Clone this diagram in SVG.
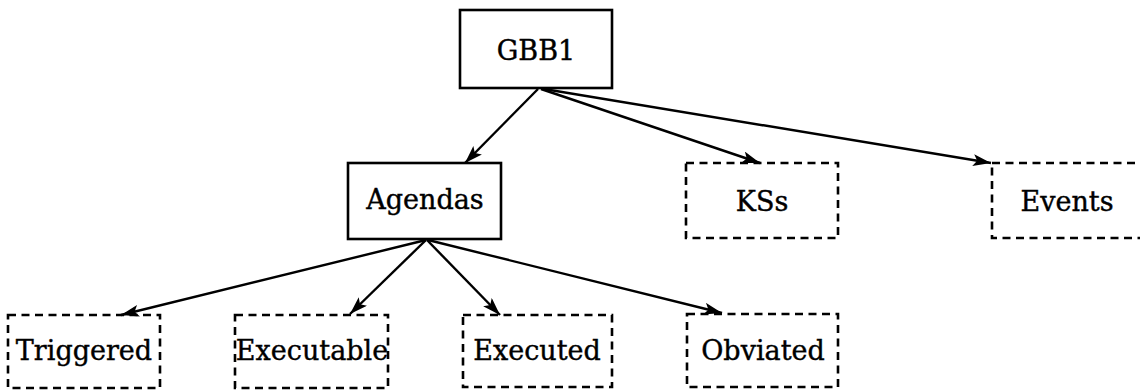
<svg xmlns="http://www.w3.org/2000/svg" width="1140" height="391" viewBox="0 0 1140 391">
<style>
.solid{fill:#fff;stroke:#000;stroke-width:2.6}
.dash{fill:#fff;stroke:#000;stroke-width:2.6;stroke-dasharray:8 5.5}
.lbl{font-family:"DejaVu Serif","Liberation Serif",serif;font-size:27px;fill:#000;stroke:#000;stroke-width:0.4;text-anchor:middle}
.edge{stroke:#000;stroke-width:2.4;fill:none;marker-end:url(#ah)}
</style>
<defs>
<marker id="ah" markerUnits="userSpaceOnUse" markerWidth="20" markerHeight="14" refX="18" refY="6" orient="auto">
<path d="M0,0 L18,6 L0,12 L4,6 z" fill="#000"/>
</marker>
</defs>
<rect width="1140" height="391" fill="#fff"/>
<g id="n-gbb1"><rect class="solid" x="460" y="10" width="152" height="78"/><text class="lbl" x="536" y="60">GBB1</text></g>
<g id="n-agendas"><rect class="solid" x="348" y="163" width="153" height="76"/><text class="lbl" x="425" y="209">Agendas</text></g>
<g id="n-kss"><rect class="dash" x="686" y="163" width="152" height="75"/><text class="lbl" x="762" y="211">KSs</text></g>
<g id="n-events"><rect class="dash" x="992" y="163" width="154" height="75"/><text class="lbl" x="1067" y="211">Events</text></g>
<g id="n-triggered"><rect class="dash" x="8" y="315" width="152" height="73"/><text class="lbl" x="84" y="360">Triggered</text></g>
<g id="n-executable"><rect class="dash" x="235" y="315" width="153" height="73"/><text class="lbl" x="312" y="360">Executable</text></g>
<g id="n-executed"><rect class="dash" x="463" y="315" width="149" height="72"/><text class="lbl" x="537" y="360">Executed</text></g>
<g id="n-obviated"><rect class="dash" x="687" y="314" width="151" height="73"/><text class="lbl" x="763" y="360">Obviated</text></g>
<g id="connectors">
<line class="edge" x1="538" y1="89" x2="465" y2="163"/>
<line class="edge" x1="541" y1="89" x2="760" y2="163"/>
<line class="edge" x1="544" y1="89" x2="991" y2="163"/>
<line class="edge" x1="426" y1="240" x2="121" y2="315"/>
<line class="edge" x1="426" y1="240" x2="350" y2="314"/>
<line class="edge" x1="427" y1="240" x2="500" y2="315"/>
<line class="edge" x1="428" y1="240" x2="722" y2="313"/>
</g>
</svg>
